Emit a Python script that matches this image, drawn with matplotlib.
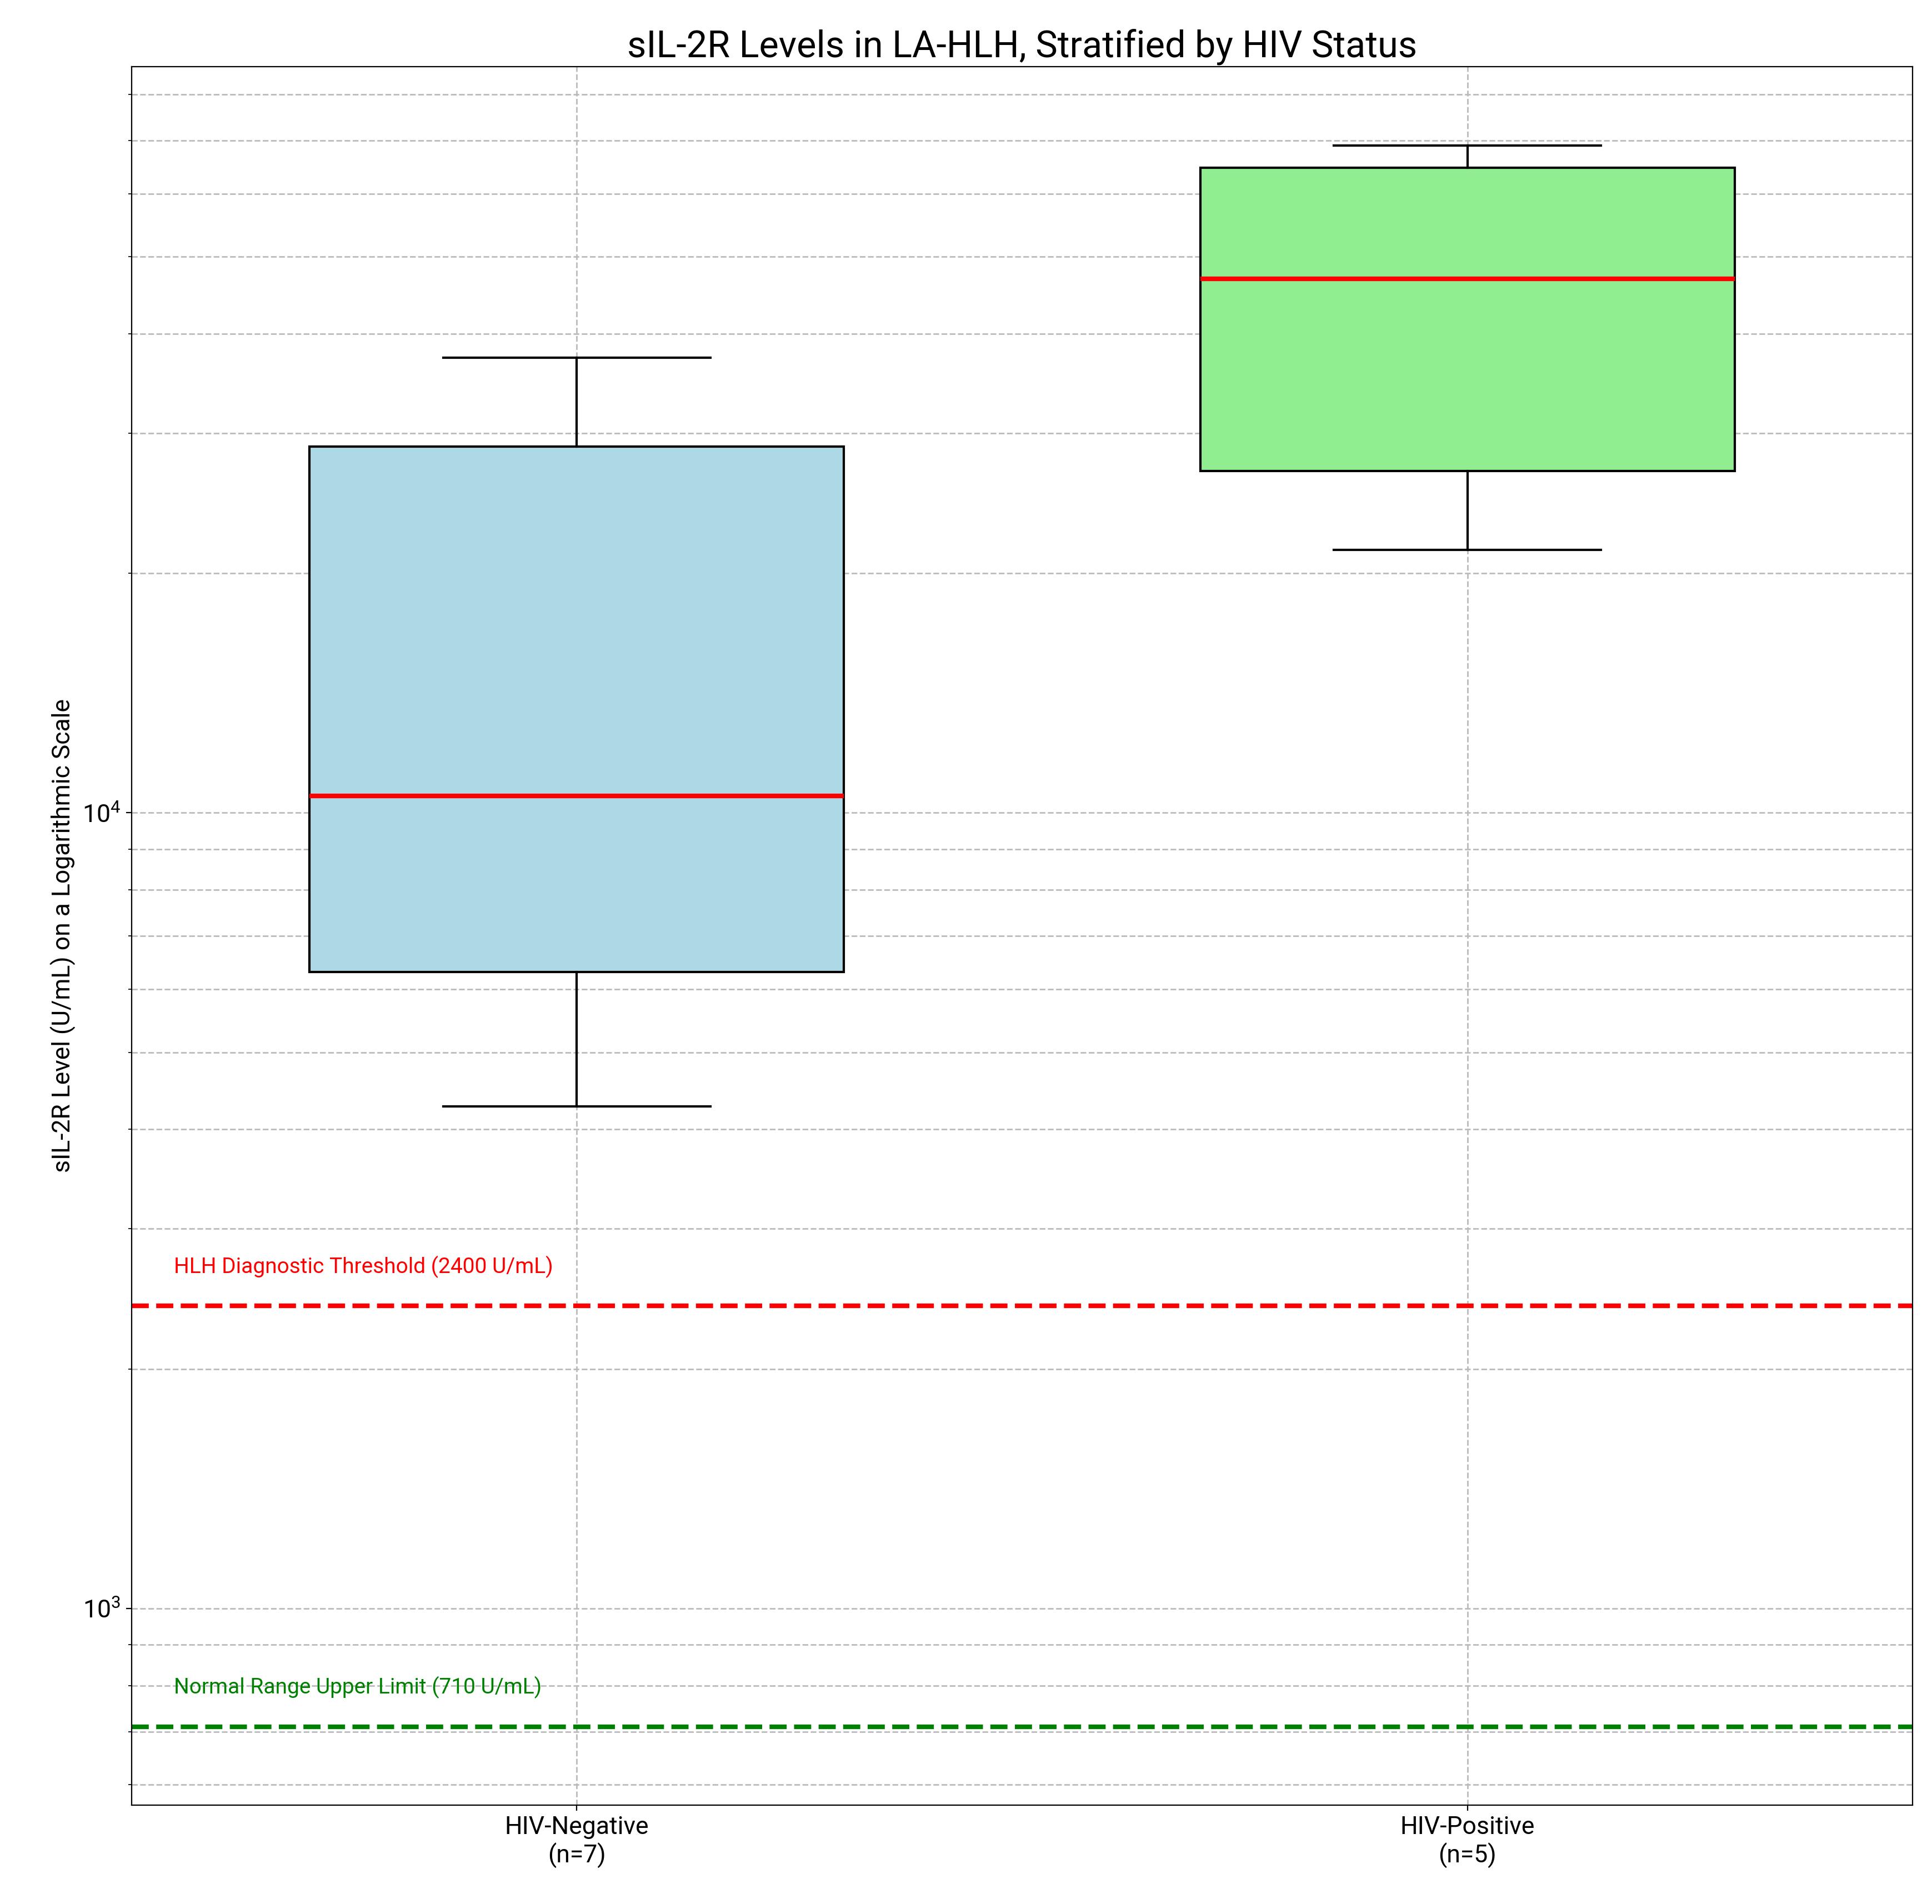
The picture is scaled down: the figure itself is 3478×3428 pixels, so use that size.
import matplotlib
matplotlib.use("Agg")
import matplotlib.pyplot as plt

plt.rcParams['font.family'] = ['Roboto', 'DejaVu Sans']

groups = ["HIV-Negative\n(n=7)", "HIV-Positive\n(n=5)"]
whislo = [4275, 21400]
q1 = [6310, 26900]
med = [10500, 46900]
q3 = [28850, 64700]
whishi = [37350, 69000]
colors = ["lightblue", "lightgreen"]
hlh_threshold = 2400
normal_limit = 710

fig, ax = plt.subplots(figsize=(17.39, 17.14), dpi=200)
stats = [dict(whislo=whislo[i], q1=q1[i], med=med[i], q3=q3[i], whishi=whishi[i], fliers=[], label=groups[i]) for i in range(2)]
bp = ax.bxp(stats, positions=[1, 2], widths=0.6, patch_artist=True, showfliers=False,
            medianprops=dict(color='red', linewidth=3),
            boxprops=dict(edgecolor='black', linewidth=1.5),
            whiskerprops=dict(linewidth=1.5), capprops=dict(linewidth=1.5), zorder=3)
for p, c in zip(bp['boxes'], colors):
    p.set_facecolor(c)

ax.set_yscale('log')
ax.set_ylim(566, 86700)
ax.set_xlim(0.5, 2.5)
ax.axhline(hlh_threshold, color='red', linestyle='--', linewidth=3)
ax.axhline(normal_limit, color='green', linestyle='--', linewidth=3)
ax.text(0.548, hlh_threshold * 1.1, "HLH Diagnostic Threshold (2400 U/mL)", color='red', fontsize=14)
ax.text(0.548, normal_limit * 1.1, "Normal Range Upper Limit (710 U/mL)", color='green', fontsize=14)
ax.grid(True, which='both', linestyle='--', color='#bbbbbb', linewidth=1)
ax.set_axisbelow(True)
ax.set_title("sIL-2R Levels in LA-HLH, Stratified by HIV Status", fontsize=24)
ax.set_ylabel("sIL-2R Level (U/mL) on a Logarithmic Scale", fontsize=16)
ax.tick_params(labelsize=16)
fig.subplots_adjust(left=0.068, right=0.99, top=0.965, bottom=0.052)
fig.savefig("out.png", dpi=200)
